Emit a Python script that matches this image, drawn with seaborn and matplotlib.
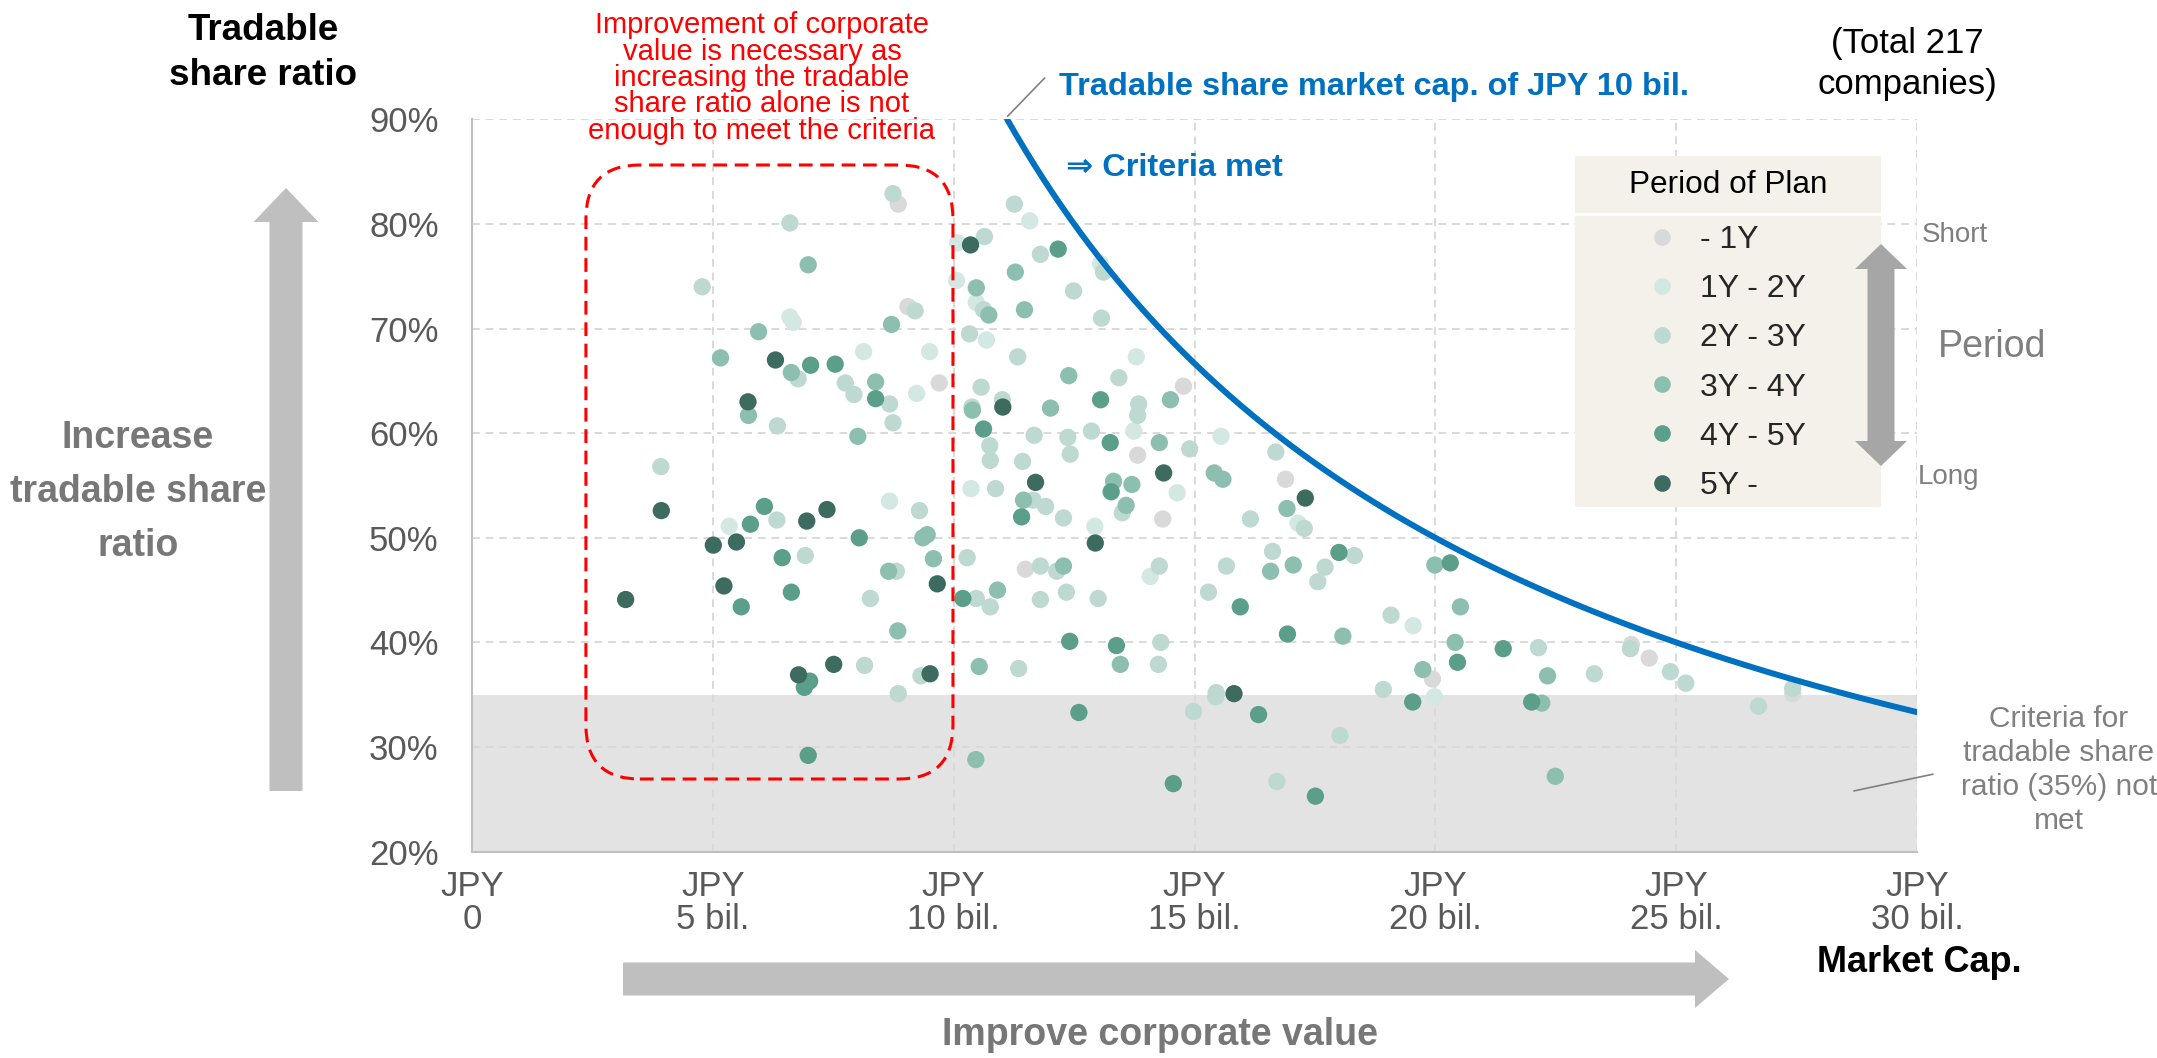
import numpy as np
import pandas as pd
import seaborn as sns
import matplotlib.pyplot as plt
from matplotlib.patches import FancyBboxPatch, Polygon, Rectangle

# Period categories and colours
periods = ['- 1Y', '1Y - 2Y', '2Y - 3Y', '3Y - 4Y', '4Y - 5Y', '5Y -']
colors = ['#d9d9d9', '#d3e8e2', '#bdd9d1', '#8dbfb1', '#5b9f8b', '#3e6b5f']

# Market cap (JPY bil.) and tradable share ratio (%) per period of plan
cap_1y = [8.85, 9.05, 9.70, 14.77, 13.82, 14.34, 16.89, 11.49, 19.94, 24.07, 24.44, 27.42]
ratio_1y = [81.9, 72.1, 64.8, 64.5, 57.9, 51.8, 55.6, 47.0, 36.5, 39.8, 38.5, 35.1]

cap_1y2y = [6.60, 6.67, 8.13, 9.50, 9.23, 5.34, 8.67, 10.08, 10.06, 10.47, 10.68, 10.36,
            11.58, 13.05, 13.79, 13.74, 15.55, 12.93, 14.64, 17.15, 14.08, 19.54, 19.98]
ratio_1y2y = [71.1, 70.6, 67.8, 67.8, 63.8, 51.1, 53.5, 78.2, 74.6, 72.5, 68.9, 54.7,
              80.3, 76.2, 67.3, 60.2, 59.7, 51.1, 54.3, 51.4, 46.3, 41.6, 34.8]

cap_2y3y = [8.74, 6.60, 4.78, 9.20, 6.77, 7.75, 7.93, 8.67, 8.74, 6.34, 3.92, 6.33, 9.29,
            6.92, 8.81, 8.27, 10.64, 10.62, 10.33, 10.57, 10.38, 10.75, 10.76, 10.87, 10.28,
            10.47, 10.76, 8.15, 9.32, 8.85, 11.26, 11.80, 13.11, 12.49, 13.07, 11.33, 13.43,
            11.01, 13.84, 13.82, 11.67, 12.37, 12.86, 14.90, 11.43, 12.42, 11.65, 11.91, 12.28,
            13.50, 16.16, 16.69, 17.28, 11.80, 12.14, 11.80, 12.34, 13.00, 14.27, 15.29, 15.66,
            16.62, 17.71, 17.56, 18.32, 19.08, 18.92, 14.30, 14.25, 11.35, 14.98, 15.45, 15.44,
            18.02, 16.71, 22.14, 23.30, 24.05, 24.88, 25.20, 26.71, 27.42]
ratio_2y3y = [82.9, 80.1, 74.0, 71.7, 65.2, 64.8, 63.7, 62.8, 61.0, 60.7, 56.8, 51.7, 52.6,
              48.3, 46.8, 44.2, 78.8, 71.8, 69.5, 64.4, 62.5, 58.8, 57.4, 54.7, 48.1,
              44.2, 43.4, 37.8, 36.8, 35.1, 81.9, 77.1, 75.4, 73.6, 71.0, 67.3, 65.3,
              63.2, 62.8, 61.7, 59.8, 59.6, 60.2, 58.5, 57.3, 58.0, 53.6, 53.0, 51.9,
              52.4, 51.8, 58.2, 50.9, 47.3, 46.8, 44.1, 44.8, 44.2, 47.3, 44.8, 47.3,
              48.7, 47.2, 45.8, 48.3, 42.6, 35.5, 40.0, 37.9, 37.5, 33.4, 35.2, 34.8,
              31.1, 26.7, 39.5, 37.0, 39.4, 37.2, 36.1, 33.9, 35.6]

cap_3y4y = [6.98, 8.71, 5.95, 5.16, 6.63, 8.38, 5.74, 8.01, 9.36, 9.45, 8.65, 9.58, 10.47,
            10.73, 10.39, 10.91, 8.84, 10.53, 10.46, 11.28, 11.47, 12.39, 12.01, 14.50, 14.27,
            11.45, 13.32, 13.70, 13.58, 15.41, 15.59, 16.92, 12.28, 16.58, 17.05, 19.99, 20.52,
            18.08, 20.41, 19.74, 13.46, 22.33, 22.21, 22.49]
ratio_3y4y = [76.1, 70.4, 69.7, 67.2, 65.8, 64.9, 61.7, 59.7, 50.0, 50.3, 46.8, 48.0, 73.9,
              71.3, 62.2, 45.0, 41.1, 37.7, 28.8, 75.4, 71.8, 65.5, 62.4, 63.2, 59.1,
              53.6, 55.4, 55.1, 53.1, 56.2, 55.6, 52.8, 47.3, 46.8, 47.4, 47.4, 43.4,
              40.6, 40.0, 37.4, 37.9, 36.8, 34.2, 27.2]

cap_4y5y = [7.03, 7.54, 8.38, 6.07, 5.78, 8.04, 6.44, 6.63, 10.62, 10.19, 5.59, 7.01, 6.90,
            6.98, 12.17, 13.05, 13.25, 11.41, 13.27, 15.95, 18.00, 20.31, 16.93, 20.46, 19.53,
            12.41, 13.38, 12.60, 16.33, 14.56, 17.51, 21.41, 22.00]
ratio_4y5y = [66.5, 66.6, 63.3, 53.0, 51.3, 50.0, 48.1, 44.8, 60.4, 44.2, 43.4, 36.3, 35.7,
              29.2, 77.6, 63.2, 59.1, 52.0, 54.4, 43.4, 48.6, 47.6, 40.8, 38.1, 34.3,
              40.1, 39.7, 33.3, 33.1, 26.5, 25.3, 39.4, 34.3]

cap_5y = [6.30, 5.73, 3.93, 5.01, 5.49, 6.95, 7.37, 5.23, 9.66, 3.19, 10.35, 7.51, 6.78,
          9.51, 11.02, 11.70, 14.36, 17.30, 12.94, 15.82]
ratio_5y = [67.0, 63.0, 52.6, 49.3, 49.6, 51.6, 52.7, 45.4, 45.6, 44.1, 78.0, 37.9, 36.9,
            37.0, 62.5, 55.3, 56.2, 53.8, 49.5, 35.1]

x_ticks = [0, 5, 10, 15, 20, 25, 30]
x_tick_labels = ['JPY\n0', 'JPY\n5 bil.', 'JPY\n10 bil.', 'JPY\n15 bil.',
                 'JPY\n20 bil.', 'JPY\n25 bil.', 'JPY\n30 bil.']
y_ticks = [20, 30, 40, 50, 60, 70, 80, 90]

caps = [cap_1y, cap_1y2y, cap_2y3y, cap_3y4y, cap_4y5y, cap_5y]
ratios = [ratio_1y, ratio_1y2y, ratio_2y3y, ratio_3y4y, ratio_4y5y, ratio_5y]
df = pd.concat([pd.DataFrame({'cap': c, 'ratio': r, 'period': p})
                for c, r, p in zip(caps, ratios, periods)], ignore_index=True)

sns.set_style('white')
plt.rcParams['font.family'] = ['Liberation Sans', 'DejaVu Sans']

W, H = 2157, 1058
fig = plt.figure(figsize=(W / 100, H / 100), dpi=100)
ax = fig.add_axes([472 / W, 1 - 851.6 / H, (1917 - 472) / W, (851.6 - 119.4) / H])

# shaded "not met" zone
ax.axhspan(20, 35, color='#e3e3e3', zorder=0.2, lw=0)

sns.scatterplot(data=df, x='cap', y='ratio', hue='period', hue_order=periods,
                palette=colors, s=155, linewidth=0, ax=ax, zorder=3)
handles, labels = ax.get_legend_handles_labels()
ax.legend_.remove()
for h in handles:
    h.set_markersize(12)

# tradable share market cap of JPY 10 bil.
curve_x = np.linspace(10 / 0.9, 30, 300)
ax.plot(curve_x, 1000 / curve_x, color='#0070c0', lw=4.3, solid_capstyle='round', zorder=4)

ax.set_xlim(0, 30)
ax.set_ylim(20, 90)
ax.set_xticks(x_ticks)
ax.set_xticklabels(x_tick_labels)
ax.set_yticks(y_ticks)
ax.set_yticklabels([f'{v}%' for v in y_ticks])
ax.set_xlabel('')
ax.set_ylabel('')
ax.tick_params(axis='both', length=0, labelsize=25, labelcolor='#595959')
ax.tick_params(axis='y', pad=24)
ax.tick_params(axis='x', pad=13)
for t in ax.get_xticklabels():
    t.set_linespacing(1.0)
ax.set_axisbelow(True)
ax.grid(True, ls=(0, (4, 3)), color='#d9d9d9', lw=1.4, zorder=0.5)
for s in ['top', 'right']:
    ax.spines[s].set_visible(False)
for s in ['left', 'bottom']:
    ax.spines[s].set_color('#bfbfbf')
    ax.spines[s].set_linewidth(1.5)

# red dashed rounded box
ax.add_patch(FancyBboxPatch((2.365, 26.94), 9.985 - 2.365, 85.64 - 26.94,
                            boxstyle='round,pad=0,rounding_size=1.12', mutation_aspect=4.61,
                            fill=False, ec='#ff0000', lw=2.2, ls=(0, (4.5, 2.5)),
                            zorder=5, clip_on=False))

# leader lines
ax.plot([11.12, 11.89], [90.3, 93.96], color='#808080', lw=1.2, clip_on=False, zorder=5)
ax.plot([28.69, 30.33], [25.8, 27.4], color='#808080', lw=1.2, clip_on=False, zorder=5)

# overlay in pixel coordinates for annotations
ov = fig.add_axes([0, 0, 1, 1], zorder=5)
ov.set_xlim(0, W)
ov.set_ylim(H, 0)
ov.axis('off')

# big arrows
pts = [(286 - 16.5, 791), (286 - 16.5, 222), (286 - 32.5, 222), (286, 188),
       (286 + 32.5, 222), (286 + 16.5, 222), (286 + 16.5, 791)]
ov.add_patch(Polygon(pts, closed=True, color='#bfbfbf', lw=0))
yc = 979
pts = [(623, yc - 16.5), (1695, yc - 16.5), (1695, yc - 29), (1729, yc),
       (1695, yc + 29), (1695, yc + 16.5), (623, yc + 16.5)]
ov.add_patch(Polygon(pts, closed=True, color='#bfbfbf', lw=0))

# legend box
ov.add_patch(Rectangle((1575, 156), 306, 351, color='#f4f0ea', lw=0))
ov.plot([1575, 1881], [214, 214], color='white', lw=2)
ov.text(1728, 185, 'Period of Plan', ha='center', va='center', fontsize=22.7, color='black')
ov.legend(handles, labels, loc='upper left', bbox_to_anchor=(1646, 225),
          bbox_transform=ov.transData, frameon=False, fontsize=23, handlelength=1,
          handletextpad=0.7, labelspacing=0.6, borderpad=0, borderaxespad=0)

# double arrow short/long
cx, top, bot, sh, hd, hl = 1881, 244, 466, 13.5, 26, 25
pts = [(cx, top), (cx + hd, top + hl), (cx + sh, top + hl), (cx + sh, bot - hl), (cx + hd, bot - hl),
       (cx, bot), (cx - hd, bot - hl), (cx - sh, bot - hl), (cx - sh, top + hl), (cx - hd, top + hl)]
ov.add_patch(Polygon(pts, closed=True, color='#a6a6a6', lw=0))
ov.text(1955, 235, 'Short', ha='center', va='center', fontsize=20, color='#7f7f7f')
ov.text(1948, 477, 'Long', ha='center', va='center', fontsize=20, color='#7f7f7f')
ov.text(1992, 347, 'Period', ha='center', va='center', fontsize=27, color='#7f7f7f')

# texts
ov.text(263, 53, 'Tradable\nshare ratio', ha='center', va='center', fontsize=26.5,
        fontweight='bold', color='black', linespacing=1.35)
ov.text(1907, 64, '(Total 217\ncompanies)', ha='center', va='center', fontsize=25,
        color='black', linespacing=1.3)
ov.text(1919, 963, 'Market Cap.', ha='center', va='center', fontsize=26,
        fontweight='bold', color='black')
ov.text(1160, 1035, 'Improve corporate value', ha='center', va='center', fontsize=27,
        fontweight='bold', color='#777777')
ov.text(138, 492, 'Increase\ntradable share\nratio', ha='center', va='center', fontsize=27,
        fontweight='bold', color='#777777', linespacing=1.65)
ov.text(762, 78, 'Improvement of corporate\nvalue is necessary as\nincreasing the tradable\n'
        'share ratio alone is not\nenough to meet the criteria', ha='center', va='center',
        fontsize=21, color='#ff0000', linespacing=0.93)
ov.text(1059, 87, 'Tradable share market cap. of JPY 10 bil.', ha='left', va='center',
        fontsize=23.4, fontweight='bold', color='#0070c0')
ov.text(1066, 168, '⇒ Criteria met', ha='left', va='center', fontsize=23.4, fontweight='bold',
        color='#0070c0', family=['Liberation Sans', 'DejaVu Sans'])
ov.text(2059, 770, 'Criteria for\ntradable share\nratio (35%) not\nmet', ha='center',
        va='center', fontsize=21.5, color='#808080', linespacing=1.26)

fig.savefig('out.png', dpi=100)
